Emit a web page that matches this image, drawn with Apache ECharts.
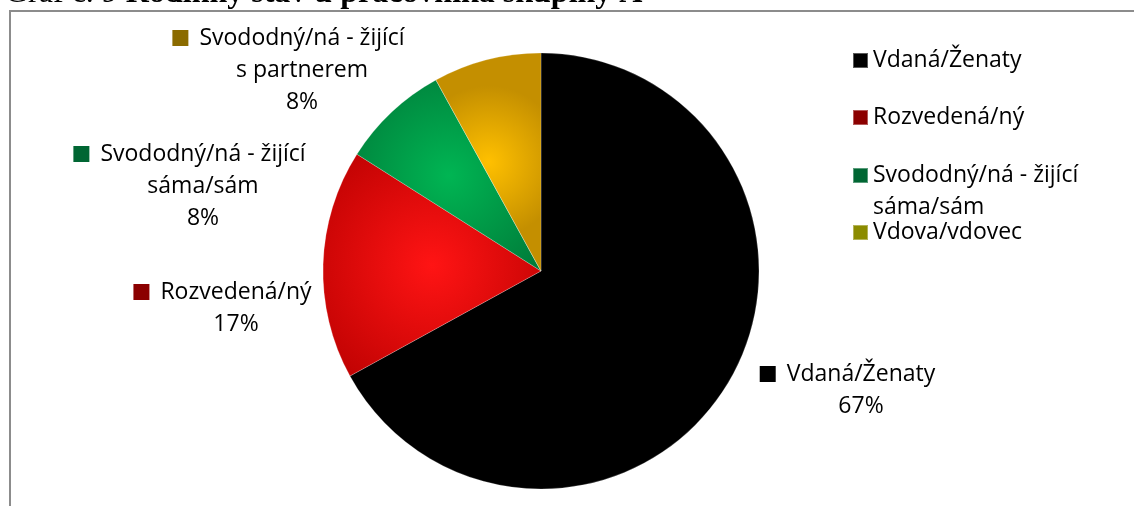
<!DOCTYPE html>
<html>
<head>
<meta charset="utf-8">
<script src="https://cdn.jsdelivr.net/npm/echarts@6/dist/echarts.min.js"></script>
<style>
  html, body { margin: 0; padding: 0; background: #fff; }
  #chart { width: 1134px; height: 506px; }
</style>
</head>
<body>
<div id="chart"></div>
<script>
// Marital status categories and their shares (percent)
const categories = [
  'Vdaná/Ženaty',
  'Rozvedená/ný',
  'Svododný/ná - žijící\nsáma/sám',
  'Vdova/vdovec',
  'Svododný/ná - žijící\ns partnerem'
];
const shares = [67, 17, 8, 0, 8];
const legendNames = categories.slice(0, 4);
const titleLead = 'Graf č. 9 ';
const titleMain = 'Rodinný stav u pracovníka skupiny A';

// Styling: slice gradients (inner, outer) and key swatch colours
const sliceColors = [
  ['#000000', '#000000'],
  ['#ff1414', '#b80000'],
  ['#00b553', '#007838'],
  ['#9a9a00', '#6d6d00'],
  ['#ffc000', '#c48f00']
];
const keyColors = ['#000000', '#8b0000', '#006633', '#8b8b00', '#8b6b00'];

// Label anchor points (center x, top y) for each slice's caption
const labelAnchors = [[861, 358], [236, 276], [203, 138], null, [302, 22]];
// Legend swatch centre y for each key entry
const legendCenters = [60.5, 117.5, 175.5, 232.5];

const FONT = '"Open Sans", sans-serif';
const FS = 23;
const LH = 32;

const chart = echarts.init(document.getElementById('chart'), null, { renderer: 'canvas' });

const richBase = {
  sp: { width: 11, lineHeight: LH },
  pad: { width: 27, lineHeight: LH }
};

const pieData = categories.map((name, i) => ({
  name,
  value: shares[i],
  itemStyle: {
    color: new echarts.graphic.RadialGradient(0.5, 0.5, 0.72, [
      { offset: 0, color: sliceColors[i][0] },
      { offset: 1, color: sliceColors[i][1] }
    ])
  },
  label: {
    show: shares[i] > 0,
    rich: Object.assign({}, richBase, {
      ic: { width: 16, height: 16, lineHeight: LH, backgroundColor: keyColors[i] }
    })
  }
}));

// A multi-line key entry gets an empty leading line so its first line sits beside the swatch
const legendText = n => (n.indexOf('\n') >= 0 ? '{e|}\n' + n : n);
const legendTop = (n, i) => legendCenters[i] - (n.indexOf('\n') >= 0 ? LH * 1.5 : LH / 2);

const option = {
  animation: false,
  title: {
    text: '{a|' + titleLead + '}{b|' + titleMain + '}',
    left: 5,
    top: -22,
    padding: 0,
    textStyle: {
      rich: {
        a: { fontFamily: '"Liberation Serif", serif', fontSize: 32, fontWeight: 'normal', color: '#000' },
        b: { fontFamily: '"Liberation Serif", serif', fontSize: 32, fontWeight: 'bold', color: '#000' }
      }
    }
  },
  legend: legendNames.map((n, i) => ({
    data: [{ name: n, itemStyle: { color: keyColors[i] } }],
    left: 852,
    top: legendTop(n, i),
    padding: 0,
    itemWidth: 15,
    itemHeight: 15,
    icon: 'rect',
    formatter: legendText,
    textStyle: {
      fontFamily: FONT,
      fontSize: FS,
      color: '#000',
      lineHeight: LH,
      rich: { e: { lineHeight: LH } }
    }
  })),
  graphic: [{
    type: 'rect',
    silent: true,
    shape: { x: 10, y: 11, width: 1300, height: 700 },
    style: { fill: null, stroke: '#8c8c8c', lineWidth: 2 }
  }],
  series: [{
    type: 'pie',
    center: [541, 271],
    radius: 218,
    startAngle: 90,
    clockwise: true,
    avoidLabelOverlap: false,
    emphasis: { scale: false },
    itemStyle: { borderWidth: 0.6, borderColor: 'rgba(255,255,255,0.35)' },
    label: {
      position: 'outside',
      fontFamily: FONT,
      fontSize: FS,
      color: '#000',
      lineHeight: LH,
      align: 'center',
      formatter: p => {
        const lines = p.name.split('\n');
        lines[0] = '{ic|}{sp|}' + lines[0] + '{pad|}';
        return lines.join('\n') + '\n' + p.value + '%';
      }
    },
    labelLine: { show: false },
    labelLayout: p => {
      const a = labelAnchors[p.dataIndex];
      if (!a) return {};
      return { x: a[0], y: a[1], align: 'center', verticalAlign: 'top' };
    },
    data: pieData
  }]
};

chart.setOption(option);
</script>
</body>
</html>
